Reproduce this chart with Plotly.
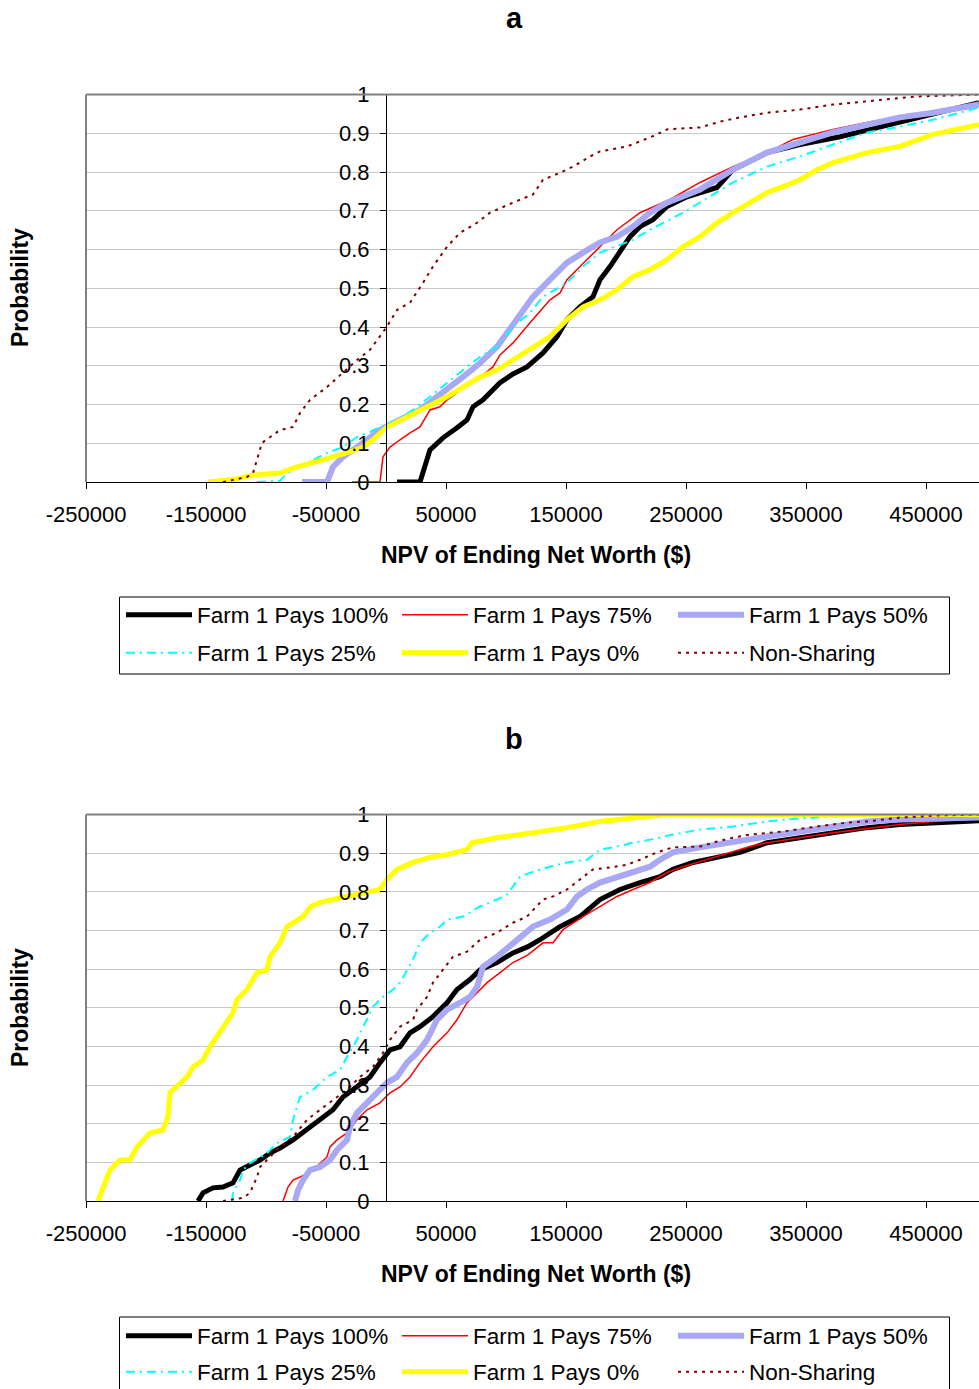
import plotly.graph_objects as go

W, H = 979, 1389

SERIES_NAMES = ["Farm 1 Pays 100%", "Farm 1 Pays 75%", "Farm 1 Pays 50%",
                "Farm 1 Pays 25%", "Farm 1 Pays 0%", "Non-Sharing"]

X_TICK_VALUES = [-250000, -150000, -50000, 50000, 150000, 250000, 350000, 450000]
X_TICK_LABELS = ["-250000", "-150000", "-50000", "50000", "150000", "250000", "350000", "450000"]

# ---------------- panel a : cumulative distributions ----------------
a_p100_x = [9167, 28333, 36667, 47500, 59167, 67500, 72500, 80833, 89167, 95000, 105833, 117500,
            130833, 142500, 150833, 161667, 172500, 178333, 186667, 195000, 203333, 211667, 222500,
            234167, 250833, 275833, 289167, 317500, 345000, 378333, 428333, 461667, 494167]
a_p100_y = [0, 0, 0.083, 0.114, 0.140, 0.160, 0.194, 0.212, 0.238, 0.256, 0.279, 0.297,
            0.333, 0.375, 0.419, 0.452, 0.478, 0.522, 0.556, 0.592, 0.633, 0.659, 0.677,
            0.711, 0.736, 0.760, 0.806, 0.850, 0.871, 0.891, 0.930, 0.956, 0.979]

a_p75_x = [-28333, -5000, -2500, 3333, 11667, 20000, 28333, 36667, 45000, 50833, 59167, 67500,
           78333, 89167, 95000, 105833, 120000, 136667, 145000, 150833, 167500, 178333, 192500,
           211667, 236667, 261667, 289167, 317500, 339167, 372500, 400833, 428333, 455833, 494167]
a_p75_y = [0, 0, 0.065, 0.090, 0.109, 0.127, 0.142, 0.186, 0.194, 0.212, 0.230, 0.256,
           0.271, 0.297, 0.328, 0.359, 0.411, 0.470, 0.488, 0.522, 0.574, 0.607, 0.651,
           0.695, 0.729, 0.773, 0.814, 0.850, 0.884, 0.910, 0.928, 0.943, 0.956, 0.969]

a_p50_x = [-70000, -49167, -44167, -35833, -24167, -13333, -5000, 5833, 17500, 28333, 39167,
           50833, 64167, 78333, 92500, 105833, 122500, 136667, 150833, 164167, 178333, 192500,
           205833, 220000, 234167, 261667, 289167, 317500, 345000, 372500, 400833, 428333,
           455833, 494167]
a_p50_y = [0, 0, 0.039, 0.065, 0.090, 0.116, 0.134, 0.152, 0.168, 0.186, 0.212,
           0.238, 0.271, 0.307, 0.349, 0.406, 0.478, 0.522, 0.566, 0.592, 0.618, 0.633,
           0.659, 0.695, 0.721, 0.755, 0.806, 0.850, 0.876, 0.902, 0.922, 0.941,
           0.953, 0.974]

a_p25_x = [-107500, -88333, -82500, -65833, -49167, -35833, -24167, -13333, -5000, 9167, 22500,
           36667, 50833, 64167, 78333, 92500, 105833, 120000, 130833, 150833, 164167, 178333,
           205833, 220000, 247500, 275833, 289167, 317500, 345000, 372500, 400833, 428333,
           455833, 494167]
a_p25_y = [0, 0.003, 0.023, 0.049, 0.075, 0.090, 0.116, 0.129, 0.142, 0.160, 0.186,
           0.220, 0.256, 0.289, 0.323, 0.349, 0.401, 0.437, 0.478, 0.514, 0.556, 0.592,
           0.625, 0.651, 0.695, 0.747, 0.773, 0.814, 0.840, 0.871, 0.902, 0.917,
           0.935, 0.966]

a_p0_x = [-148333, -124167, -110833, -88333, -77500, -60833, -44167, -30000, -19167, -10833, 833,
          17500, 34167, 50833, 64167, 78333, 92500, 105833, 122500, 136667, 150833, 164167,
          178333, 192500, 205833, 220000, 234167, 247500, 261667, 275833, 289167, 303333,
          317500, 330833, 345000, 359167, 372500, 400833, 428333, 455833, 494167]
a_p0_y = [0, 0.008, 0.018, 0.023, 0.036, 0.049, 0.065, 0.078, 0.090, 0.109, 0.142,
          0.168, 0.194, 0.220, 0.245, 0.271, 0.289, 0.315, 0.349, 0.375, 0.419, 0.452,
          0.470, 0.496, 0.530, 0.548, 0.574, 0.607, 0.633, 0.669, 0.695, 0.721,
          0.747, 0.762, 0.780, 0.806, 0.824, 0.850, 0.866, 0.897, 0.922]

a_ns_x = [-135833, -115833, -110833, -103333, -88333, -77500, -71667, -63333, -49167, -35833,
          -24167, -13333, 833, 9167, 20000, 30833, 39167, 50833, 61667, 75833, 86667, 105833,
          122500, 130833, 145000, 155833, 170000, 178333, 200833, 211667, 225833, 234167,
          261667, 278333, 295000, 317500, 345000, 372500, 400833, 442500, 494167]
a_ns_y = [0, 0.013, 0.023, 0.101, 0.134, 0.142, 0.178, 0.212, 0.245, 0.282,
          0.315, 0.341, 0.401, 0.444, 0.463, 0.514, 0.556, 0.607, 0.643, 0.669, 0.695, 0.721,
          0.742, 0.780, 0.798, 0.814, 0.840, 0.853, 0.866, 0.879, 0.897, 0.910,
          0.915, 0.930, 0.941, 0.953, 0.961, 0.974, 0.982, 0.995, 1.0]

# ---------------- panel b : cumulative distributions ----------------
b_p100_x = [-156667, -152500, -144167, -135833, -127500, -121667, -113333, -105000, -96667,
            -88333, -77500, -65833, -55000, -44167, -35833, -24167, -13333, -5000, 3333, 11667,
            20000, 28333, 39167, 50833, 59167, 70000, 78333, 92500, 105833, 118333, 128333,
            145000, 161667, 178333, 195000, 211667, 228333, 239167, 255833, 275833, 295000,
            317500, 345000, 372500, 400833, 428333, 455833, 494167]
b_p100_y = [0, 0.021, 0.034, 0.036, 0.047, 0.080, 0.093, 0.106, 0.124,
            0.137, 0.158, 0.184, 0.210, 0.236, 0.269, 0.295, 0.321, 0.358, 0.391, 0.399,
            0.435, 0.451, 0.477, 0.513, 0.547, 0.573, 0.598, 0.617, 0.642, 0.658, 0.676,
            0.710, 0.736, 0.780, 0.806, 0.824, 0.839, 0.858, 0.876, 0.889, 0.902,
            0.927, 0.940, 0.953, 0.966, 0.974, 0.979, 0.984]

b_p75_x = [-85833, -81667, -77500, -71667, -60833, -49167, -46667, -40833, -32500, -24167,
           -15833, -5000, 3333, 11667, 20000, 28333, 39167, 50833, 59167, 67500, 72500, 84167,
           95000, 105833, 118333, 130833, 139167, 147500, 164167, 178333, 192500, 205833,
           220000, 234167, 247500, 261667, 275833, 289167, 303333, 317500, 345000, 372500,
           400833, 428333, 455833, 494167]
b_p75_y = [0, 0.036, 0.054, 0.062, 0.080, 0.114, 0.140, 0.158, 0.176, 0.210,
           0.236, 0.254, 0.280, 0.295, 0.321, 0.358, 0.399, 0.435, 0.469, 0.513, 0.528, 0.565,
           0.591, 0.617, 0.637, 0.668, 0.668, 0.702, 0.736, 0.762, 0.788, 0.806,
           0.824, 0.850, 0.865, 0.878, 0.891, 0.904, 0.917, 0.927, 0.940, 0.953,
           0.964, 0.974, 0.982, 0.990]

b_p50_x = [-75833, -73333, -69167, -63333, -55000, -46667, -40833, -32500, -30000, -24167,
           -15833, -7500, 833, 9167, 17500, 25833, 34167, 42500, 50833, 61667, 70000, 75833,
           80833, 92500, 105833, 122500, 136667, 150833, 159167, 167500, 178333, 192500,
           205833, 220000, 228333, 239167, 261667, 289167, 317500, 345000, 372500, 400833,
           428333, 455833, 494167]
b_p50_y = [0, 0.028, 0.054, 0.080, 0.088, 0.106, 0.132, 0.158, 0.192, 0.228,
           0.254, 0.280, 0.306, 0.321, 0.358, 0.383, 0.417, 0.469, 0.495, 0.513, 0.528, 0.554,
           0.606, 0.632, 0.668, 0.710, 0.728, 0.754, 0.788, 0.806, 0.824, 0.839,
           0.852, 0.865, 0.883, 0.902, 0.915, 0.927, 0.943, 0.956, 0.969, 0.982,
           0.987, 0.990, 0.992]

b_p25_x = [-128333, -127500, -121667, -119167, -113333, -99167, -90833, -80000, -77500, -74167,
           -71667, -60833, -49167, -38333, -32500, -24167, -15833, -10833, -2500, 5833, 11667,
           22500, 28333, 36667, 45000, 50833, 64167, 78333, 92500, 100833, 111667, 122500,
           136667, 150833, 167500, 178333, 192500, 205833, 220000, 239167, 261667, 289167,
           317500, 345000, 372500, 428333, 494167]
b_p25_y = [0, 0.021, 0.054, 0.080, 0.098, 0.124, 0.150, 0.166, 0.210, 0.244,
           0.269, 0.288, 0.321, 0.339, 0.373, 0.417, 0.469, 0.503, 0.528, 0.547, 0.565,
           0.624, 0.668, 0.694, 0.710, 0.728, 0.736, 0.762, 0.780, 0.793, 0.839, 0.852,
           0.865, 0.876, 0.883, 0.909, 0.917, 0.927, 0.935, 0.948, 0.961, 0.969,
           0.982, 0.990, 0.995, 0.997, 1.0]

b_p0_x = [-240000, -235833, -230000, -221667, -213333, -207500, -202500, -196667, -185833,
          -181667, -180000, -171667, -165833, -160833, -152500, -146667, -140833, -135833,
          -127500, -124167, -115833, -107500, -99167, -96667, -88333, -82500, -77500, -69167,
          -62500, -55000, -44167, -32500, -19167, -5000, 833, 9167, 22500, 36667, 50833,
          67500, 71667, 92500, 118333, 150833, 178333, 205833, 234167, 494167]
b_p0_y = [0, 0.036, 0.080, 0.106, 0.106, 0.140, 0.158, 0.176, 0.184,
          0.218, 0.280, 0.306, 0.321, 0.347, 0.365, 0.399, 0.425, 0.451,
          0.487, 0.521, 0.547, 0.591, 0.598, 0.632, 0.668, 0.710, 0.720, 0.736,
          0.762, 0.772, 0.780, 0.788, 0.798, 0.806, 0.832, 0.858, 0.876, 0.889, 0.896,
          0.909, 0.927, 0.940, 0.951, 0.966, 0.982, 0.992, 1.0, 1.0]

b_ns_x = [-135833, -119167, -113333, -107500, -105000, -96667, -88333, -77500, -65833, -55000,
          -44167, -32500, -21667, -10833, -2500, 3333, 11667, 22500, 25833, 34167, 39167,
          47500, 55833, 67500, 78333, 92500, 105833, 117500, 130833, 139167, 150833, 161667,
          172500, 186667, 200833, 211667, 225833, 239167, 261667, 275833, 289167, 303333,
          317500, 330833, 359167, 384167, 400833, 428333, 455833, 494167]
b_ns_y = [0, 0.008, 0.021, 0.062, 0.088, 0.114, 0.140, 0.166, 0.210, 0.236,
          0.262, 0.288, 0.321, 0.347, 0.383, 0.417, 0.451, 0.469, 0.495, 0.528, 0.565,
          0.598, 0.632, 0.645, 0.676, 0.694, 0.720, 0.736, 0.780, 0.788, 0.806, 0.832,
          0.858, 0.863, 0.870, 0.883, 0.902, 0.915, 0.917, 0.930, 0.940, 0.948,
          0.953, 0.956, 0.969, 0.979, 0.982, 0.992, 0.997, 1.0]

panel_a = [(a_p100_x, a_p100_y), (a_p75_x, a_p75_y), (a_p50_x, a_p50_y),
           (a_p25_x, a_p25_y), (a_p0_x, a_p0_y), (a_ns_x, a_ns_y)]
panel_b = [(b_p100_x, b_p100_y), (b_p75_x, b_p75_y), (b_p50_x, b_p50_y),
           (b_p25_x, b_p25_y), (b_p0_x, b_p0_y), (b_ns_x, b_ns_y)]

LINE_STYLES = [
    dict(color="#000000", width=5, dash="solid"),
    dict(color="#FF0000", width=1.5, dash="solid"),
    dict(color="#A8A8F4", width=6, dash="solid"),
    dict(color="#00FFFF", width=2, dash="9px,5px,2px,5px"),
    dict(color="#FFFF00", width=5, dash="solid"),
    dict(color="#800000", width=2, dash="3px,5px"),
]

FONT = "Liberation Sans, Arial, sans-serif"
X_MIN, X_MAX = -250000, 494167


def px_x(p):
    return p / W


def px_y(p):
    return 1 - p / H


# each legend row is its own legend so the two rows sit at the right spacing
ROW_LEGENDS = {"a": ("legend", "legend3"), "b": ("legend2", "legend4")}

fig = go.Figure()
for panel, data, xa, ya in (("a", panel_a, "x", "y"), ("b", panel_b, "x2", "y2")):
    for i, (name, (xs, ys), style) in enumerate(zip(SERIES_NAMES, data, LINE_STYLES)):
        fig.add_trace(go.Scatter(x=xs, y=ys, mode="lines", name=name, line=style,
                                 xaxis=xa, yaxis=ya, legend=ROW_LEGENDS[panel][i // 3]))

x_domain = [px_x(86), 1.0]
ya_domain = [px_y(482), px_y(94.5)]
yb_domain = [px_y(1201), px_y(814.5)]

xaxis_common = dict(
    domain=x_domain, range=[X_MIN, X_MAX], tickmode="array",
    tickvals=X_TICK_VALUES, ticktext=X_TICK_LABELS,
    ticks="outside", ticklen=6, tickcolor="#000000", showline=True, linecolor="#000000",
    linewidth=1, showgrid=False, zeroline=False, ticklabelstandoff=7,
    tickfont=dict(family=FONT, size=22, color="#000000"), fixedrange=True,
)
yaxis_common = dict(
    range=[0, 1], dtick=0.1, tick0=0, ticks="outside", ticklen=6, tickcolor="#000000",
    showline=True, linecolor="#000000", linewidth=1, showgrid=True, gridcolor="#C8C8C8",
    gridwidth=1, zeroline=False, anchor="free", position=px_x(386), ticklabelstandoff=6,
    tickfont=dict(family=FONT, size=22, color="#000000"), fixedrange=True,
)

legend_common = dict(
    orientation="h", xanchor="left", yanchor="middle", bgcolor="rgba(0,0,0,0)",
    borderwidth=0, font=dict(family=FONT, size=22.5, color="#000000"),
    entrywidth=195, entrywidthmode="pixels", itemwidth=66, traceorder="normal",
)

fig.update_layout(
    width=W, height=H, margin=dict(l=0, r=0, t=0, b=0, autoexpand=False),
    paper_bgcolor="#FFFFFF", plot_bgcolor="#FFFFFF",
    font=dict(family=FONT, color="#000000"),
    xaxis=dict(anchor="y", **xaxis_common),
    yaxis=dict(domain=ya_domain, **yaxis_common),
    xaxis2=dict(anchor="y2", **xaxis_common),
    yaxis2=dict(domain=yb_domain, **yaxis_common),
    legend=dict(x=px_x(121), y=px_y(615), **legend_common),
    legend3=dict(x=px_x(121), y=px_y(653), **legend_common),
    legend2=dict(x=px_x(121), y=px_y(1336), **legend_common),
    legend4=dict(x=px_x(121), y=px_y(1372), **legend_common),
    showlegend=True,
)

# gray frame on the top and left edges of each plot area
for xr, yr in (("x domain", "y domain"), ("x2 domain", "y2 domain")):
    fig.add_shape(type="line", xref=xr, yref=yr, x0=0, x1=1, y0=1, y1=1,
                  line=dict(color="#808080", width=2))
    fig.add_shape(type="line", xref=xr, yref=yr, x0=0, x1=0, y0=0, y1=1,
                  line=dict(color="#808080", width=2))

# legend boxes
for top, bottom in ((597, 674), (1317, 1394)):
    fig.add_shape(type="rect", xref="paper", yref="paper",
                  x0=px_x(119.5), x1=px_x(949.5), y0=px_y(bottom), y1=px_y(top),
                  line=dict(color="#000000", width=1), fillcolor="rgba(0,0,0,0)", layer="below")

title_font = dict(family=FONT, size=29, color="#000000")
label_font = dict(family=FONT, size=23, color="#000000")
for letter, ty, py_mid, px_title in (("a", 18, 288, 555), ("b", 739, 1008, 1274)):
    fig.add_annotation(text=f"<b>{letter}</b>", xref="paper", yref="paper",
                       x=px_x(514), y=px_y(ty), xanchor="center", yanchor="middle",
                       showarrow=False, font=title_font)
    fig.add_annotation(text="<b>Probability</b>", xref="paper", yref="paper",
                       x=px_x(20), y=px_y(py_mid), xanchor="center", yanchor="middle",
                       textangle=-90, showarrow=False, font=label_font)
    fig.add_annotation(text="<b>NPV of Ending Net Worth ($)</b>", xref="paper", yref="paper",
                       x=px_x(536), y=px_y(px_title), xanchor="center", yanchor="middle",
                       showarrow=False, font=label_font)

fig.write_html("out.html", config=dict(displayModeBar=False))
